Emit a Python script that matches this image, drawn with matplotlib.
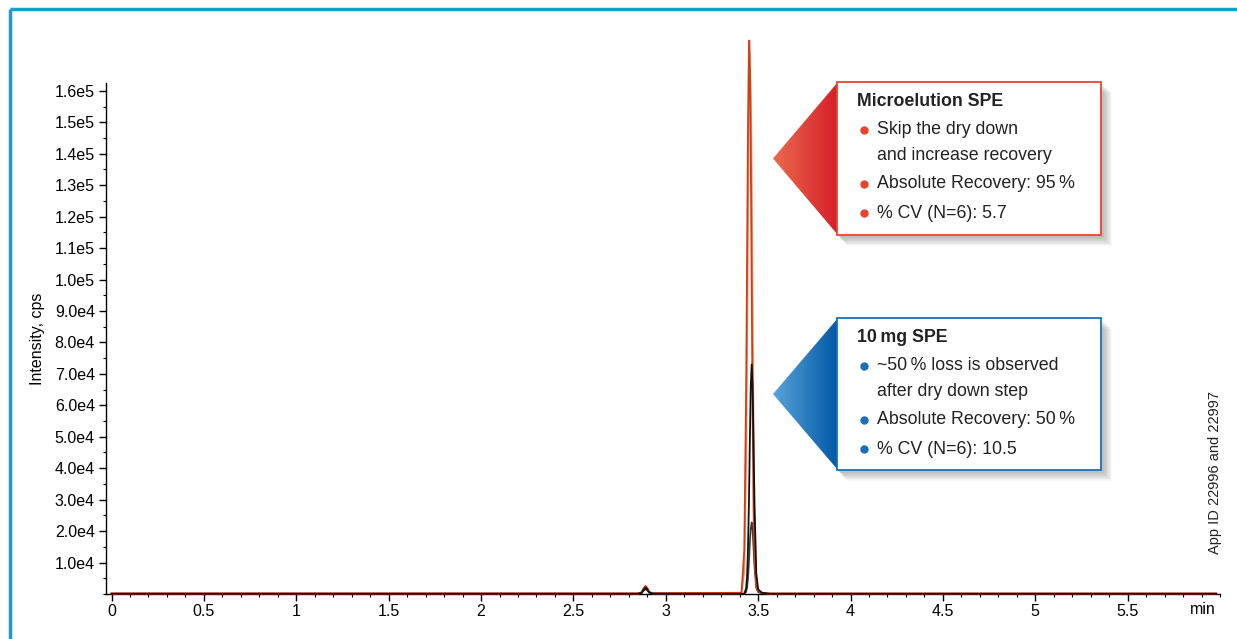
import numpy as np
import matplotlib
matplotlib.use("Agg")
from matplotlib import pyplot as plt
from matplotlib.patches import Polygon, Rectangle
from matplotlib.colors import LinearSegmentedColormap
from matplotlib.ticker import MultipleLocator, FixedLocator

plt.rcParams['font.family'] = ['Liberation Sans', 'DejaVu Sans']

# retention time (min) shared by all traces
time_min = [0.0, 2.85, 2.87, 2.88, 2.89, 2.90, 2.91, 2.93, 3.41, 3.425, 3.435, 3.44, 3.445,
            3.45, 3.452, 3.455, 3.46, 3.465, 3.47, 3.475, 3.48, 3.49, 3.50, 3.52, 3.56, 5.98]

# microelution SPE replicates (cps)
micro_a = [150, 150, 600, 1800, 2600, 1900, 700, 200, 390, 14000, 64500, 106800, 148500,
           173500, 176000, 170500, 140800, 97800, 57200, 28000, 11500, 2000, 900, 300, 100, 100]
micro_b = [150, 150, 500, 1600, 2400, 1700, 600, 200, 150, 7300, 41600, 76500, 118000,
           153000, 161800, 167000, 160000, 135000, 95000, 55000, 25000, 3500, 1300, 400, 150, 150]
# 10 mg SPE replicates (cps)
spe_a = [100, 100, 400, 1400, 2000, 1500, 500, 150, 50, 100, 1800, 5500, 14000,
         28800, 36300, 48300, 65800, 73000, 65800, 48300, 28800, 6500, 1500, 400, 100, 100]
spe_b = [80, 80, 300, 1000, 1500, 1100, 400, 100, 30, 30, 700, 2000, 4900,
         9600, 12000, 15800, 21000, 22800, 20000, 14500, 8800, 2000, 600, 200, 80, 80]

y_ticks = [1e4 * i for i in range(1, 17)]
y_labels = ["%.1fe4" % i for i in range(1, 10)] + ["%.1fe5" % (i / 10) for i in range(10, 17)]
x_ticks = [0, 0.5, 1, 1.5, 2, 2.5, 3, 3.5, 4, 4.5, 5, 5.5]
x_labels = ["0", "0.5", "1", "1.5", "2", "2.5", "3", "3.5", "4", "4.5", "5", "5.5"]

red_lines = [["Skip the dry down", "and increase recovery"], ["Absolute Recovery: 95\u2009%"], ["% CV (N=6): 5.7"]]
blue_lines = [["~50\u2009% loss is observed", "after dry down step"], ["Absolute Recovery: 50\u2009%"], ["% CV (N=6): 10.5"]]

W, H = 1237, 639
fig = plt.figure(figsize=(W / 100, H / 100), dpi=100)
fig.patch.set_facecolor("white")

ax = fig.add_axes([106 / W, 1 - 594 / H, (1220 - 106) / W, (594 - 83) / H])
ax.plot(time_min, spe_b, color="#3a3a3a", lw=1.2, clip_on=False, zorder=2)
ax.plot(time_min, micro_b, color="#ec9478", lw=1.3, clip_on=False, zorder=3)
ax.plot(time_min, micro_a, color="#d2400f", lw=1.3, clip_on=False, zorder=4)
ax.plot(time_min, spe_a, color="#111111", lw=1.3, clip_on=False, zorder=5)

ax.set_xlim(-0.03, 6.0)
ax.set_ylim(0, 1.625e5)
ax.spines["top"].set_visible(False)
ax.spines["right"].set_visible(False)
for s in ("left", "bottom"):
    ax.spines[s].set_linewidth(1.0)
ax.yaxis.set_major_locator(FixedLocator(y_ticks))
ax.set_yticklabels(y_labels)
ax.yaxis.set_minor_locator(MultipleLocator(5000))
ax.xaxis.set_major_locator(FixedLocator(x_ticks))
ax.set_xticklabels(x_labels)
ax.xaxis.set_minor_locator(MultipleLocator(0.1))
ax.tick_params(which="major", length=5, width=1, labelsize=11.5, pad=3)
ax.tick_params(which="minor", length=2.5, width=0.8)
ax.tick_params(axis="x", which="major", pad=2)
ax.set_ylabel("Intensity, cps", fontsize=11.5, labelpad=7)

# overlay in pixel coordinates for frame and callouts
ov = fig.add_axes([0, 0, 1, 1], zorder=10)
ov.patch.set_alpha(0)
ov.axis("off")

ov.plot([10, W], [9, 9], color="#1e9bcb", lw=2.5, solid_capstyle="butt")
ov.plot([10, 10], [9, H], color="#1e9bcb", lw=2.5, solid_capstyle="butt")

ov.text(1203, 609, "min", ha="center", va="center", fontsize=11.5)
ov.text(1215, 473, "App ID 22996 and 22997", rotation=90, ha="center", va="center",
        fontsize=10.5, color="#222222")


def callout(top, bottom, edge, c_light, c_dark, title, items):
    left, right, tip = 837, 1101, 773
    mid = (top + bottom) / 2
    pts = [(tip, mid), (left, top), (right, top), (right, bottom), (left, bottom)]
    # soft shadow
    for k in range(6):
        off = 3 + k * 1.5
        sh = Polygon([(x + off, y + off) for x, y in pts], closed=True,
                     facecolor="#555555", edgecolor="none", alpha=0.07)
        ov.add_patch(sh)
    tri = Polygon([(tip, mid), (left + 1, top), (left + 1, bottom)], closed=True,
                  facecolor="none", edgecolor="none")
    ov.add_patch(tri)
    cmap = LinearSegmentedColormap.from_list("g", [c_light, c_dark])
    grad = np.linspace(0, 1, 64).reshape(1, -1)
    im = ov.imshow(grad, extent=(tip, left + 1, bottom, top), cmap=cmap, aspect="auto", zorder=2)
    im.set_clip_path(tri)
    ov.add_patch(Rectangle((left, top), right - left, bottom - top, facecolor="white",
                           edgecolor=edge, lw=1.3, zorder=3))
    ov.text(857, top + 19, title, fontsize=12.8, fontweight="bold", va="center", ha="left",
            color="#222222", zorder=4)
    ys = [top + 48, top + 102, top + 131]
    for y, rows in zip(ys, items):
        ov.plot(864, y, "o", ms=5, color=edge, zorder=4)
        for j, txt in enumerate(rows):
            ov.text(877, y + 25 * j, txt, fontsize=12.8, va="center", ha="left",
                    color="#222222", zorder=4)


callout(82, 235, "#e8452c", "#ea6a4e", "#d61f2a", "Microelution SPE", red_lines)
callout(318, 470, "#1a6fb8", "#5aa3db", "#0058a6", "10\u2009mg SPE", blue_lines)

ov.set_xlim(0, W)
ov.set_ylim(H, 0)

fig.savefig("out.png", dpi=100)
